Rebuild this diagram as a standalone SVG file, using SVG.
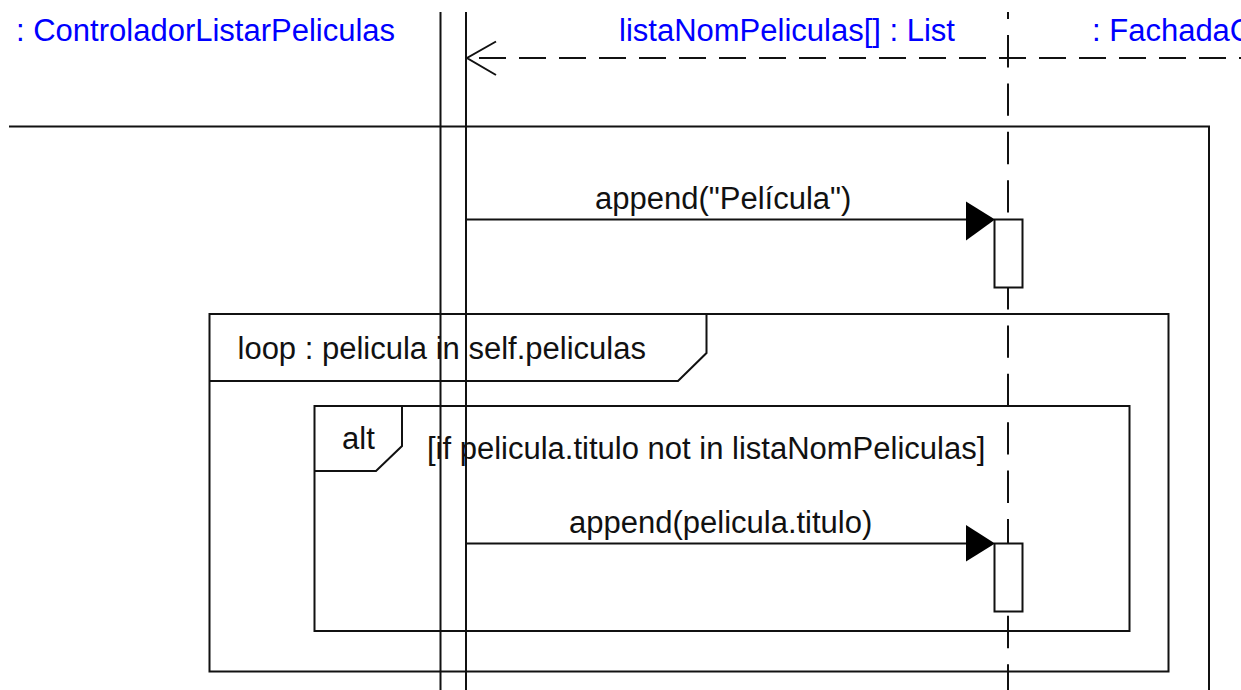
<svg xmlns="http://www.w3.org/2000/svg" width="1241" height="690" viewBox="0 0 1241 690">
<style>
.t{font-family:"Liberation Sans",Arial,sans-serif;font-size:31px;fill:#111}
.h{font-family:"Liberation Sans",Arial,sans-serif;font-size:31px;fill:#0000ff}
.ln{stroke:#111;stroke-width:2;fill:none}
.act{stroke:#111;stroke-width:2;fill:#fff}
.msg{stroke:#111;stroke-width:2;fill:none}
</style>
<rect width="1241" height="690" fill="#fff"/>
<g id="frame-outer">
<path class="ln" d="M9 126.5 H1209 V690"/>
</g>
<g id="frame-loop">
<rect class="ln" x="209.5" y="314" width="959" height="357.5"/>
<path class="ln" d="M209.5 381 H678 L706.5 353 V314"/>
<text class="t" x="237.5" y="359">loop : pelicula in self.peliculas</text>
</g>
<g id="frame-alt">
<rect class="ln" x="314.5" y="406" width="815" height="225"/>
<path class="ln" d="M314.5 471 H376 L402 446 V406"/>
<text class="t" x="342" y="449">alt</text>
<text class="t" x="427" y="459">[if pelicula.titulo not in listaNomPeliculas]</text>
</g>
<g id="lifeline-controlador">
<text class="h" x="16" y="41">: ControladorListarPeliculas</text>
<line class="ln" x1="440.5" y1="12" x2="440.5" y2="690"/>
<line class="ln" x1="466" y1="12" x2="466" y2="690"/>
</g>
<g id="lifeline-lista">
<text class="h" x="619" y="41">listaNomPeliculas[] : List</text>
<line x1="1008" y1="12" x2="1008" y2="690" stroke="#111" stroke-width="2" stroke-dasharray="32.4 16" stroke-dashoffset="25.4"/>
<rect class="act" x="994.5" y="219.5" width="28" height="68"/>
<rect class="act" x="994.5" y="543.5" width="28" height="68"/>
</g>
<g id="lifeline-fachada">
<text class="h" x="1092" y="41">: FachadaC</text>
</g>
<g id="connectors">
<line class="msg" x1="466" y1="58" x2="1241" y2="58" stroke-dasharray="27 13" stroke-dashoffset="27"/>
<polyline class="msg" points="496,41.5 467,58 496,75"/>
<line class="msg" x1="466" y1="219.5" x2="968" y2="219.5"/>
<polygon points="995,219.5 966,201.5 966,240.5" fill="#000"/>
<text class="t" x="595" y="209">append("Película")</text>
<line class="msg" x1="466" y1="543.5" x2="968" y2="543.5"/>
<polygon points="995,543.5 966,525 966,561.5" fill="#000"/>
<text class="t" x="569" y="533">append(pelicula.titulo)</text>
</g>
</svg>
